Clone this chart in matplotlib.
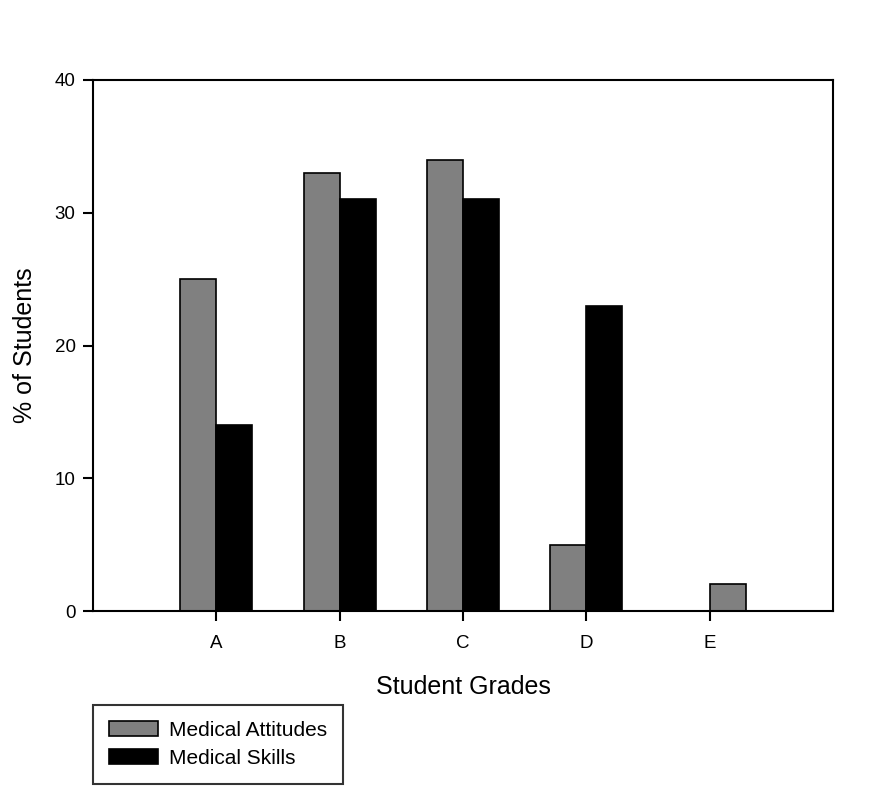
import matplotlib
matplotlib.use("Agg")
import matplotlib.pyplot as plt
import numpy as np

plt.rcParams['font.family'] = ['Liberation Sans', 'DejaVu Sans']

grades = ['A', 'B', 'C', 'D', 'E']
attitudes = [25, 33, 34, 5, 2]
skills = [14, 31, 31, 23, 0]

fig = plt.figure(figsize=(8.77, 7.90), dpi=100)
ax = fig.add_axes([93/877, 1-611/790, (833-93)/877, (611-80)/790])

x = np.arange(1, len(grades) + 1)
w = 0.293
sk = np.array(skills)
att_off = np.where(sk == 0, w/2, -w/2)
ax.bar(x + att_off, attitudes, width=w, color='#808080', edgecolor='black',
       linewidth=1.2, label='Medical Attitudes')
ax.bar(x[sk > 0] + w/2, sk[sk > 0], width=w, color='black', edgecolor='black',
       linewidth=1.2, label='Medical Skills')

ax.set_xlim(0, 6.0)
ax.set_ylim(0, 40)
ax.set_xticks(x)
ax.set_xticklabels(grades)
ax.set_yticks([0, 10, 20, 30, 40])
for s in ax.spines.values():
    s.set_linewidth(1.5)
ax.tick_params(direction='out', length=7, width=1.5, labelsize=13.5)
ax.tick_params(axis='x', pad=10)
ax.tick_params(axis='y', pad=5.5)
ax.set_xlabel('Student Grades', fontsize=18, labelpad=17)
ax.set_ylabel('% of Students', fontsize=18, labelpad=13)

leg = fig.legend(loc='upper left', bbox_to_anchor=(93/877, 1-705/790),
                 fontsize=15, frameon=True, fancybox=False, edgecolor='black',
                 handlelength=2.35, handleheight=0.72, borderpad=0.75,
                 labelspacing=0.45, handletextpad=0.55, borderaxespad=0)
leg.get_frame().set_linewidth(1.5)

fig.savefig('out.png', dpi=100)
